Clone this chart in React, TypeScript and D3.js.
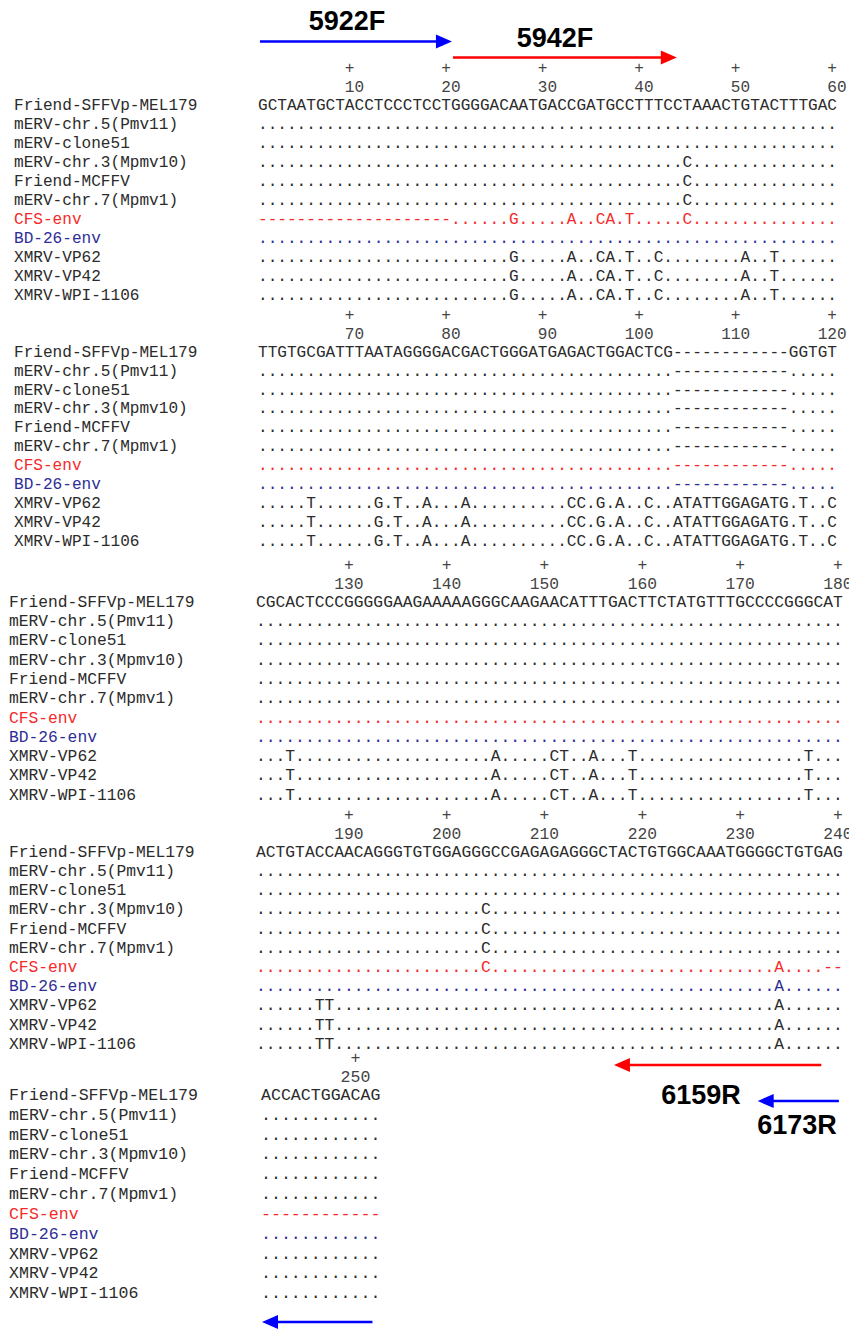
import React from "react";
import * as d3 from "d3";

// ---------- DATA ----------
const rowNames = [
  "Friend-SFFVp-MEL179",
  "mERV-chr.5(Pmv11)",
  "mERV-clone51",
  "mERV-chr.3(Mpmv10)",
  "Friend-MCFFV",
  "mERV-chr.7(Mpmv1)",
  "CFS-env",
  "BD-26-env",
  "XMRV-VP62",
  "XMRV-VP42",
  "XMRV-WPI-1106",
];

// sequences written in groups of ten (spaces are only for readability)
const block1 = [
  "GCTAATGCTA CCTCCCTCCT GGGGACAATG ACCGATGCCT TTCCTAAACT GTACTTTGAC",
  ".......... .......... .......... .......... .......... ..........",
  ".......... .......... .......... .......... .......... ..........",
  ".......... .......... .......... .......... ....C..... ..........",
  ".......... .......... .......... .......... ....C..... ..........",
  ".......... .......... .......... .......... ....C..... ..........",
  "---------- ---------- ......G... ..A..CA.T. ....C..... ..........",
  ".......... .......... .......... .......... .......... ..........",
  ".......... .......... ......G... ..A..CA.T. .C........ A..T......",
  ".......... .......... ......G... ..A..CA.T. .C........ A..T......",
  ".......... .......... ......G... ..A..CA.T. .C........ A..T......",
];
const block2 = [
  "TTGTGCGATT TAATAGGGGA CGACTGGGAT GAGACTGGAC TCG------- -----GGTGT",
  ".......... .......... .......... .......... ...------- -----.....",
  ".......... .......... .......... .......... ...------- -----.....",
  ".......... .......... .......... .......... ...------- -----.....",
  ".......... .......... .......... .......... ...------- -----.....",
  ".......... .......... .......... .......... ...------- -----.....",
  ".......... .......... .......... .......... ...------- -----.....",
  ".......... .......... .......... .......... ...------- -----.....",
  ".....T.... ..G.T..A.. .A........ ..CC.G.A.. C..ATATTGG AGATG.T..C",
  ".....T.... ..G.T..A.. .A........ ..CC.G.A.. C..ATATTGG AGATG.T..C",
  ".....T.... ..G.T..A.. .A........ ..CC.G.A.. C..ATATTGG AGATG.T..C",
];
const block3 = [
  "CGCACTCCCG GGGGAAGAAA AAGGGCAAGA ACATTTGACT TCTATGTTTG CCCCGGGCAT",
  ".......... .......... .......... .......... .......... ..........",
  ".......... .......... .......... .......... .......... ..........",
  ".......... .......... .......... .......... .......... ..........",
  ".......... .......... .......... .......... .......... ..........",
  ".......... .......... .......... .......... .......... ..........",
  ".......... .......... .......... .......... .......... ..........",
  ".......... .......... .......... .......... .......... ..........",
  "...T...... .......... ....A..... CT..A...T. .......... ......T...",
  "...T...... .......... ....A..... CT..A...T. .......... ......T...",
  "...T...... .......... ....A..... CT..A...T. .......... ......T...",
];
const block4 = [
  "ACTGTACCAA CAGGGTGTGG AGGGCCGAGA GAGGGCTACT GTGGCAAATG GGGCTGTGAG",
  ".......... .......... .......... .......... .......... ..........",
  ".......... .......... .......... .......... .......... ..........",
  ".......... .......... ...C...... .......... .......... ..........",
  ".......... .......... ...C...... .......... .......... ..........",
  ".......... .......... ...C...... .......... .......... ..........",
  ".......... .......... ...C...... .......... .......... ...A....--",
  ".......... .......... .......... .......... .......... ...A......",
  "......TT.. .......... .......... .......... .......... ...A......",
  "......TT.. .......... .......... .......... .......... ...A......",
  "......TT.. .......... .......... .......... .......... ...A......",
];
const block5 = [
  "ACCACTGGAC AG",
  ".......... ..",
  ".......... ..",
  ".......... ..",
  ".......... ..",
  ".......... ..",
  "---------- --",
  ".......... ..",
  ".......... ..",
  ".......... ..",
  ".......... ..",
];

const blockStarts = [1, 61, 121, 181, 241];
const ticks1 = [10, 20, 30, 40, 50, 60];
const ticks2 = [70, 80, 90, 100, 110, 120];
const ticks3 = [130, 140, 150, 160, 170, 180];
const ticks4 = [190, 200, 210, 220, 230, 240];
const ticks5 = [250];

// primers: block index, tail column, tip column (alignment columns within block)
const primerNames = ["5922F", "5942F", "6159R", "6173R", ""];
const primerBlock = [0, 0, 3, 3, 4];
const primerFrom = [0.2, 20.2, 57.8, 59.6, 11.2];
const primerTo = [20.1, 43.4, 36.6, 51.3, 0.1];

// ---------- LAYOUT / STYLE ----------
const W = 849;
const H = 1329;
const blockLayout = [
  { labelX: 14, seqX: 258, cw: 9.65, y0: 104, step: 19.05 },
  { labelX: 14, seqX: 258, cw: 9.65, y0: 351, step: 18.95 },
  { labelX: 9, seqX: 256, cw: 9.78, y0: 601, step: 19.3 },
  { labelX: 9, seqX: 256, cw: 9.78, y0: 851, step: 19.2 },
  { labelX: 9, seqX: 261, cw: 9.95, y0: 1094, step: 19.85 },
];
const primerLayout = [
  { y: 41.5, color: "#0000ff", lx: 347, ly: 29.5 },
  { y: 57.5, color: "#ff0000", lx: 555, ly: 46.5 },
  { y: 1065, color: "#ff0000", lx: 701, ly: 1103.5 },
  { y: 1101, color: "#0000ff", lx: 797, ly: 1133.5 },
  { y: 1322, color: "#0000ff", lx: 0, ly: 0 },
];
const MONO = "'Liberation Mono', 'Courier New', monospace";
const SANS = "'Liberation Sans', Arial, sans-serif";

function rowColor(name: string) {
  if (name === "CFS-env") return "#f52a2a";
  if (name === "BD-26-env") return "#2e2e96";
  return "#2b2b2b";
}

const blocks = [block1, block2, block3, block4, block5];
const blockTicks = [ticks1, ticks2, ticks3, ticks4, ticks5];

function Block({ bi }: { bi: number }) {
  const L = blockLayout[bi];
  const rows = blocks[bi].map((s) => s.replace(/ /g, ""));
  const ncol = rows[0].length;
  const fs = L.cw / 0.6;
  const x = d3.scaleLinear().domain([0, ncol]).range([L.seqX, L.seqX + ncol * L.cw]);
  const y = d3.scaleLinear().domain([0, rowNames.length - 1]).range([L.y0, L.y0 + (rowNames.length - 1) * L.step]);
  const start = blockStarts[bi];
  return (
    <g>
      {blockTicks[bi].map((t) => {
        const col = t - start + 1;
        const cx = x(col - 0.5);
        const s = String(t);
        const numStartCol = s.length >= 3 ? col - 1 : col;
        return (
          <g key={t}>
            <text x={cx} y={L.y0 - 37} dy="0.35em" textAnchor="middle" fontFamily={MONO} fontSize={fs} fill="#444">+</text>
            <text x={x(numStartCol - 1)} y={L.y0 - 18} dy="0.35em" fontFamily={MONO} fontSize={fs} fill="#444">{s}</text>
          </g>
        );
      })}
      {rowNames.map((name, ri) => (
        <g key={name}>
          <text x={L.labelX} y={y(ri)} dy="0.35em" fontFamily={MONO} fontSize={fs} fill={rowColor(name)}>{name}</text>
          <text x={x(0)} y={y(ri)} dy="0.35em" fontFamily={MONO} fontSize={fs} fill={rowColor(name)}
            textLength={ncol * L.cw} lengthAdjust="spacing" style={{ whiteSpace: "pre" }}>{rows[ri]}</text>
        </g>
      ))}
    </g>
  );
}

function Primer({ pi }: { pi: number }) {
  const bi = primerBlock[pi];
  const L = blockLayout[bi];
  const ncol = blocks[bi][0].replace(/ /g, "").length;
  const x = d3.scaleLinear().domain([0, ncol]).range([L.seqX, L.seqX + ncol * L.cw]);
  const P = primerLayout[pi];
  const x0 = x(primerFrom[pi]);
  const x1 = x(primerTo[pi]);
  const dir = x1 > x0 ? 1 : -1;
  const headLen = 16;
  const headHalf = 7;
  const base = x1 - dir * headLen;
  const head = d3.path();
  head.moveTo(x1, P.y);
  head.lineTo(base, P.y - headHalf);
  head.lineTo(base, P.y + headHalf);
  head.closePath();
  return (
    <g>
      <line x1={x0} y1={P.y} x2={base + dir} y2={P.y} stroke={P.color} strokeWidth={2.6} />
      <path d={head.toString()} fill={P.color} />
      {primerNames[pi] && (
        <text x={P.lx} y={P.ly} textAnchor="middle" fontFamily={SANS} fontWeight="bold" fontSize={27} fill="#000">
          {primerNames[pi]}
        </text>
      )}
    </g>
  );
}

export default function App() {
  return (
    <svg width={W} height={H} viewBox={`0 0 ${W} ${H}`} style={{ position: "absolute", left: 0, top: 0, background: "#fff" }}>
      <rect width={W} height={H} fill="#fff" />
      {blocks.map((_, bi) => <Block key={bi} bi={bi} />)}
      {primerNames.map((_, pi) => <Primer key={pi} pi={pi} />)}
    </svg>
  );
}
